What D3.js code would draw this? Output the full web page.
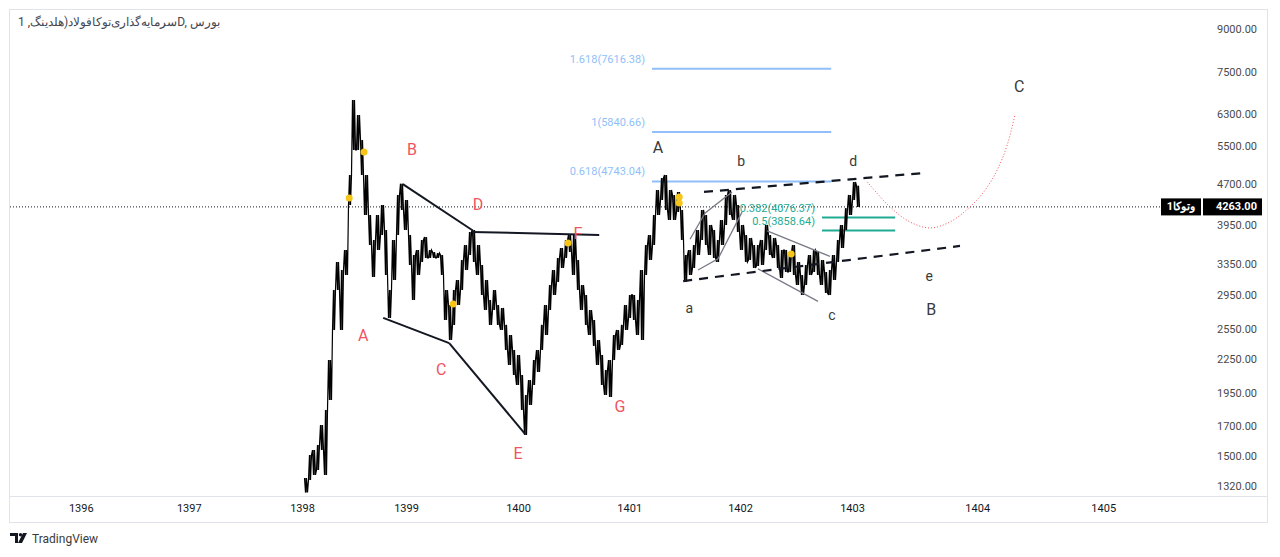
<!DOCTYPE html>
<html>
<head>
<meta charset="utf-8">
<script src="https://cdn.jsdelivr.net/npm/d3@7"></script>
<style>
  body { margin: 0; background: #fff; }
  svg text { font-family: Roboto, "Noto Sans", sans-serif; }
</style>
</head>
<body>
<div id="chart"></div>
<script>
// price bars (one every few sessions)
var barHigh = [1365,1503,1535,1568,1705,1816,2241,3007,3383,3271,3557,4876,6680,6272,5645,4876,4120,3710,4120,4298,
  3869,3007,3710,4483,4700,4389,3789,3484,3557,3710,3758,3557,3527,3512,3484,3007,2824,3007,3136,3411,
  3633,3837,3869,3633,3341,3136,2883,3007,2824,2789,2597,2489,2337,2289,2104,1935,2060,2241,2337,2597,
  2824,3071,3271,3440,3587,3710,3789,3789,3411,3071,2945,2765,2651,2437,2289,2149,2241,2489,2542,2597,
  2824,2945,2945,2883,3271,3633,3789,4120,4577,4814,4876,4577,4483,4539,4208,3484,3557,3633,3869,4208,
  4120,3952,3869,3710,4035,4483,4577,4483,4298,3952,3789,3742,3633,3633,3710,3952,3789,3742,3633,3557,
  3557,3527,3633,3383,3203,3341,3484,3557,3527,3411,3244,3271,3484,3710,3952,4240,4483,4734,4660];
var barLow = [1285,1354,1383,1412,1535,1383,1894,2542,3007,2542,3203,4298,5414,5414,4876,4120,3633,3176,3557,3789,
  3203,2674,3136,3789,4208,3869,3341,2883,3203,3383,3440,3440,3440,3440,3203,2651,2437,2597,2824,3007,
  3271,3484,3383,3203,2945,2765,2597,2765,2597,2542,2337,2195,2104,2018,1816,1635,1855,2018,2131,2337,
  2489,2765,2945,3110,3299,3440,3527,3203,3007,2765,2597,2489,2378,2195,2018,1935,1919,2241,2337,2386,
  2542,2674,2651,2489,2437,3203,3411,3633,4120,4389,4208,4035,4035,4173,3710,3110,3203,3299,3484,3710,
  3633,3484,3440,3383,3633,3952,4120,4035,3837,3557,3383,3411,3299,3327,3341,3557,3484,3440,3299,3163,
  3244,3244,3203,3071,2945,3071,3203,3244,3203,3071,2970,2945,3136,3383,3587,3869,4120,4389,4261];
var lastPrice = 4263;
var ticker = "وتوکا1";
var title = "سرمایه‌گذاری‌توکافولاد(هلدینگ, 1D, بورس";

// time axis: year labels and the bar where each year begins
var yearLabels = ["1396","1397","1398","1399","1400","1401","1402","1403","1404","1405"];
var yearBars = [-56.3, -29.3, -1, 25, 53, 80.8, 108.5, 136.5, 167.8, 199.3];

// price axis
var priceTicks = [9000,7500,6300,5500,4700,3950,3350,2950,2550,2250,1950,1700,1500,1320];

// fibonacci levels
var fibBlueLabels = ["1.618","1","0.618"];
var fibBlueValues = [7616.38, 5840.66, 4743.04];
var fibBlueBars = [86.5, 131.3];
var fibGreenLabels = ["0.382","0.5"];
var fibGreenValues = [4076.37, 3858.64];
var fibGreenBars = [129, 147.3];

// wave labels [text, bar, price]
var redWaves = [["A",14.3,2479],["B",26.5,5414],["C",33.8,2149],["D",43,4298],["E",53,1516],["F",68,3805],["G",78.5,1846]];
var darkWaves = [["A",88,5460],["B",156.3,2776],["C",178.3,7083]];
var smallWaves = [["a",95.8,2787],["b",108.8,5168],["c",131.5,2708],["d",136.8,5168],["e",155.8,3190]];

// drawn trend lines [[bar, price], [bar, price]]
var solidLines = [
  [[24.2,4690],[41.7,3860]],
  [[41.5,3837],[73.3,3789]],
  [[19.3,2674],[35.8,2406]],
  [[35.8,2406],[54.8,1642]]
];
var dashedLines = [
  [[99.5,4539],[154.5,4916]],
  [[94.3,3122],[163.5,3618]]
];
var greyLines = [
  [[96,3722],[99.8,4156],[106.5,4539]],
  [[98,3271],[103,3427],[109,4171]],
  [[115.3,3855],[131,3462]],
  [[113,3286],[128,2866]]
];
var projection = [[140.3,4734],[146,4263],[151,4002],[156,3902],[161,4002],[166,4263],[169.8,4577],[172.8,4978],[175.3,5530],[177.3,6300]];
var markers = [[10.8,4426],[14.5,5368],[36.8,2836],[65.5,3664],[93.3,4445],[93.3,4334],[121.3,3498]];

var layout = {
  width: 1280,
  height: 557,
  left: 10,
  right: 1178,
  top: 10,
  bottom: 496,
  axisText: 1257,
}

var svg = d3.select("#chart")
  .append("svg")
  .attr("width", layout.width)
  .attr("height", layout.height);

var x = d3.scaleLinear().domain([-74, 218]).range([layout.left, layout.right]);
var y = d3.scaleLog().domain([1320, 9000]).range([486, 29]);

/* frame */
svg.append("rect")
  .attr("x", 9.5).attr("y", 9.5)
  .attr("width", 1258).attr("height", 513)
  .style("fill", "none").style("stroke", "#e0e3eb");
svg.append("line")
  .attr("x1", 9.5).attr("x2", 1267.5)
  .attr("y1", layout.bottom + 0.5).attr("y2", layout.bottom + 0.5)
  .style("stroke", "#e0e3eb");

svg.append("defs").append("clipPath").attr("id", "pane")
  .append("rect")
  .attr("x", layout.left).attr("y", layout.top)
  .attr("width", 1170).attr("height", layout.bottom - layout.top);

let pane = svg.append("g").attr("clip-path", "url(#pane)");

/* title */
svg.append("text")
  .attr("x", 18).attr("y", 26)
  .text(title)
  .style("font-size", "12px")
  .style("fill", "#434651");

/* last price line */
pane.append("line")
  .attr("x1", layout.left).attr("x2", 1160)
  .attr("y1", y(lastPrice)).attr("y2", y(lastPrice))
  .style("stroke", "#131722")
  .style("stroke-dasharray", "1,2");

/* fibonacci */
fibBlueValues.forEach((v, i) => {
  pane.append("line")
    .attr("x1", x(fibBlueBars[0])).attr("x2", x(fibBlueBars[1]))
    .attr("y1", y(v)).attr("y2", y(v))
    .style("stroke", "#90bff9").style("stroke-width", 2);
  pane.append("text")
    .attr("x", x(fibBlueBars[0]) - 7).attr("y", y(v) - 6)
    .attr("text-anchor", "end")
    .text(fibBlueLabels[i] + "(" + v.toFixed(2) + ")")
    .style("font-size", "11px").style("fill", "#90bff9");
});
fibGreenValues.forEach((v, i) => {
  pane.append("line")
    .attr("x1", x(fibGreenBars[0])).attr("x2", x(fibGreenBars[1]))
    .attr("y1", y(v)).attr("y2", y(v))
    .style("stroke", "#22ab94").style("stroke-width", 2);
});

/* green fib labels sit under the bars */
fibGreenValues.forEach((v, i) => {
  pane.append("text")
    .attr("x", x(fibGreenBars[0]) - 7).attr("y", y(v) - 6)
    .attr("text-anchor", "end")
    .text(fibGreenLabels[i] + "(" + v.toFixed(2) + ")")
    .style("font-size", "11px").style("fill", "#22ab94");
});

/* price bars: dense zigzag between each bar's high and low */
let zig = [];
barHigh.forEach((h, i) => {
  let a = i % 2 === 0 ? h : barLow[i];
  let b = i % 2 === 0 ? barLow[i] : h;
  zig.push([x(i) - 1.5, y(a)]);
  zig.push([x(i) - 0.5, y(b)]);
  zig.push([x(i) + 0.5, y(a)]);
  zig.push([x(i) + 1.5, y(b)]);
});
pane.append("path")
  .attr("d", d3.line()(zig))
  .style("fill", "none")
  .style("stroke", "#000")
  .style("stroke-width", 1.2);
pane.selectAll(".bar")
  .data(barHigh)
  .enter()
  .append("line")
  .attr("x1", (d, i) => x(i))
  .attr("x2", (d, i) => x(i))
  .attr("y1", (d) => y(d))
  .attr("y2", (d, i) => y(barLow[i]))
  .style("stroke", "#000")
  .style("stroke-width", 1.4);

/* drawings */
let line = d3.line().x((d) => x(d[0])).y((d) => y(d[1]));
greyLines.forEach((l) => {
  pane.append("path").attr("d", line(l))
    .style("fill", "none").style("stroke", "#787b86").style("stroke-width", 1.3);
});
solidLines.forEach((l) => {
  pane.append("path").attr("d", line(l))
    .style("fill", "none").style("stroke", "#131722").style("stroke-width", 2);
});
dashedLines.forEach((l) => {
  pane.append("path").attr("d", line(l))
    .style("fill", "none").style("stroke", "#131722").style("stroke-width", 2.2)
    .style("stroke-dasharray", "9,7");
});
pane.append("path")
  .attr("d", d3.line().x((d) => x(d[0])).y((d) => y(d[1])).curve(d3.curveCatmullRom)(projection))
  .style("fill", "none")
  .style("stroke", "#f7525f")
  .style("stroke-width", 1)
  .style("stroke-dasharray", "1,2");

pane.selectAll(".marker")
  .data(markers)
  .enter()
  .append("circle")
  .attr("cx", (d) => x(d[0]))
  .attr("cy", (d) => y(d[1]))
  .attr("r", 3.5)
  .style("fill", "#f5c518");

/* wave labels */
function waveText(list, color, size) {
  list.forEach((w) => {
    pane.append("text")
      .attr("x", x(w[1])).attr("y", y(w[2]))
      .attr("text-anchor", "middle")
      .attr("dominant-baseline", "central")
      .text(w[0])
      .style("font-size", size)
      .style("fill", color);
  });
}
waveText(redWaves, "#f0545f", "16px");
waveText(darkWaves, "#3a3a3a", "16px");
waveText(smallWaves, "#3a3a3a", "14px");

/* time axis */
let xAxis = svg.append("g")
  .attr("transform", `translate(0, ${layout.bottom})`)
  .call(d3.axisBottom(x).tickValues(yearBars).tickFormat((d, i) => yearLabels[i]).tickSize(0).tickPadding(8));
xAxis.select(".domain").remove();
xAxis.selectAll("text").style("font-size", "11px").style("fill", "#131722").style("font-family", "Roboto, sans-serif");

/* price axis */
let yAxis = svg.append("g")
  .attr("transform", `translate(${layout.axisText}, 0)`)
  .call(d3.axisLeft(y).tickValues(priceTicks).tickFormat(d3.format(".2f")).tickSize(0).tickPadding(0));
yAxis.select(".domain").remove();
yAxis.selectAll("text").style("font-size", "11px").style("fill", "#4a4a4a").style("font-family", "Roboto, sans-serif");

/* last price tags */
let py = y(lastPrice);
svg.append("rect").attr("x", 1161).attr("y", py - 8.5).attr("width", 40).attr("height", 17).style("fill", "#000");
svg.append("text").attr("x", 1181).attr("y", py).attr("text-anchor", "middle").attr("dominant-baseline", "central")
  .text(ticker).style("font-size", "11px").style("fill", "#fff").style("font-weight", "bold");
svg.append("rect").attr("x", 1203).attr("y", py - 8.5).attr("width", 59).attr("height", 17).style("fill", "#000");
svg.append("text").attr("x", layout.axisText).attr("y", py).attr("text-anchor", "end").attr("dominant-baseline", "central")
  .text(d3.format(".2f")(lastPrice)).style("font-size", "11px").style("fill", "#fff").style("font-weight", "bold");

/* TradingView mark */
let logo = svg.append("g").attr("transform", "translate(10, 533)");
logo.append("path").attr("d", "M0 0 H8 V10 H5 V3 H0 Z").style("fill", "#131722");
logo.append("circle").attr("cx", 10.5).attr("cy", 1.7).attr("r", 1.7).style("fill", "#131722");
logo.append("path").attr("d", "M13 0 H17 L12 10 H8 Z").style("fill", "#131722");
svg.append("text").attr("x", 32).attr("y", 543).text("TradingView")
  .style("font-size", "12px").style("fill", "#3a3a3a");
</script>
</body>
</html>
